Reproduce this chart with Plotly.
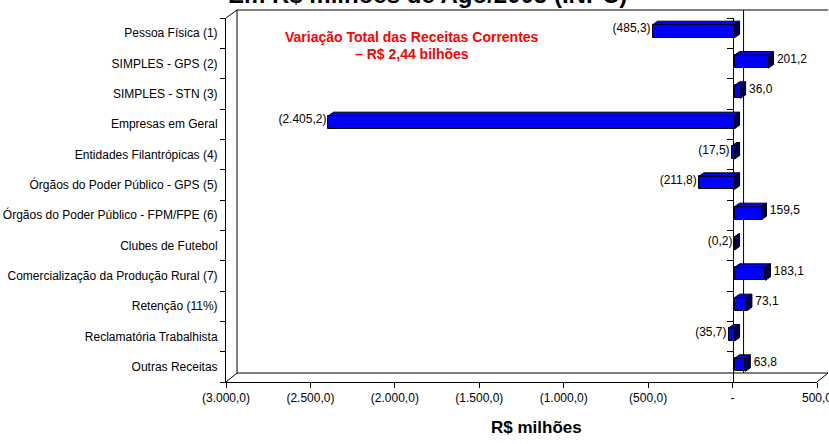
import plotly.graph_objects as go

# ---------------- data ----------------
categories = [
    "Pessoa Física (1)",
    "SIMPLES - GPS (2)",
    "SIMPLES - STN (3)",
    "Empresas em Geral",
    "Entidades Filantrópicas (4)",
    "Órgãos do Poder Público - GPS (5)",
    "Órgãos do Poder Público - FPM/FPE (6)",
    "Clubes de Futebol",
    "Comercialização da Produção Rural (7)",
    "Retenção (11%)",
    "Reclamatória Trabalhista",
    "Outras Receitas",
]
values = [-485.3, 201.2, 36.0, -2405.2, -17.5, -211.8, 159.5, -0.2, 183.1, 73.1, -35.7, 63.8]
x_tickvals = [-3000, -2500, -2000, -1500, -1000, -500, 0, 500]
x_ticktext = ["(3.000,0)", "(2.500,0)", "(2.000,0)", "(1.500,0)", "(1.000,0)", "(500,0)", "-", "500,0"]
title_text = "Em R$ milhões de Ago/2005 (INPC)"
note_line1 = "Variação Total das Receitas Correntes"
note_line2 = "– R$ 2,44 bilhões"
x_title = "R$ milhões"

# ---------------- layout helpers ----------------
W, H = 829, 444
L, R, T, B = 226, 0, 10, 62
PW, PH = W - L - R, H - T - B
FONT = "Liberation Sans, Arial, sans-serif"
XR = [-3000, 500]
YR = [len(categories) - 0.5, -0.5]


def pxx(x):
    return (x - L) / PW


def pyy(y):
    return (H - B - y) / PH


main_xd = [pxx(226), pxx(817)]
main_yd = [pyy(382), pyy(18)]
back_xd = [pxx(237), pxx(828)]
back_yd = [pyy(373), pyy(10)]
bar_xd = [pxx(228), pxx(819)]
bar_yd = [pyy(380), pyy(16)]

px_per_unit = (817 - 226) / (XR[1] - XR[0])
px_per_cat = (382 - 18) / len(categories)
DX = 5 / px_per_unit       # bar depth (x, data units)
DY = 3.5 / px_per_cat      # bar depth (y, category units)
BW = 13 / px_per_cat       # bar thickness
LBL_DY = 2 / px_per_cat
LBL_GAP = 2 / px_per_unit


def br(v):
    s = f"{abs(v):,.1f}".replace(",", "X").replace(".", ",").replace("X", ".")
    return f"({s})" if v < 0 else s


idx = list(range(len(categories)))
bounds = [i - 0.5 for i in range(len(categories) + 1)]

# polygons for 3D faces
top_x, top_y, side_x, side_y = [], [], [], []
for i, v in zip(idx, values):
    x0, x1 = min(v, 0), max(v, 0)
    yt = i - BW / 2
    top_x += [x0, x1, x1 + DX, x0 + DX, x0, None]
    top_y += [yt, yt, yt - DY, yt - DY, yt, None]
    side_x += [x1, x1 + DX, x1 + DX, x1, x1, None]
    side_y += [yt, yt - DY, yt + BW - DY, yt + BW, yt, None]

fig = go.Figure()
# empty traces so that the axis subplots are drawn
fig.add_trace(go.Scatter(x=[], y=[], xaxis="x", yaxis="y", hoverinfo="skip"))
fig.add_trace(go.Scatter(x=[], y=[], xaxis="x", yaxis="y4", hoverinfo="skip"))
fig.add_trace(go.Scatter(x=[], y=[], xaxis="x", yaxis="y5", hoverinfo="skip"))

fig.add_trace(go.Scatter(x=top_x, y=top_y, mode="lines", fill="toself",
                         fillcolor="#0000FF", line=dict(color="black", width=1),
                         xaxis="x3", yaxis="y3", hoverinfo="skip"))
fig.add_trace(go.Scatter(x=side_x, y=side_y, mode="lines", fill="toself",
                         fillcolor="#00005A", line=dict(color="black", width=1),
                         xaxis="x3", yaxis="y3", hoverinfo="skip"))
fig.add_trace(go.Bar(x=values, y=idx, orientation="h", width=BW,
                     marker=dict(color="#0000FF", line=dict(color="black", width=1)),
                     xaxis="x3", yaxis="y3", hoverinfo="skip"))

neg = [(i, v) for i, v in zip(idx, values) if v < 0]
pos = [(i, v) for i, v in zip(idx, values) if v >= 0]
fig.add_trace(go.Scatter(x=[v - LBL_GAP for i, v in neg], y=[i - LBL_DY for i, v in neg],
                         text=[br(v) for i, v in neg], mode="text",
                         textposition="middle left",
                         textfont=dict(family=FONT, size=12, color="black"),
                         xaxis="x3", yaxis="y3", hoverinfo="skip"))
fig.add_trace(go.Scatter(x=[v + DX for i, v in pos], y=[i - LBL_DY for i, v in pos],
                         text=[" " + br(v) for i, v in pos], mode="text",
                         textposition="middle right",
                         textfont=dict(family=FONT, size=12, color="black"),
                         xaxis="x3", yaxis="y3", hoverinfo="skip"))

shapes = [
    # back wall
    dict(type="line", xref="x2 domain", yref="y2 domain", x0=0, x1=0, y0=0, y1=1),
    dict(type="line", xref="x2 domain", yref="y2 domain", x0=0, x1=1, y0=1, y1=1),
    dict(type="line", xref="x2 domain", yref="y2 domain", x0=0, x1=1, y0=0, y1=0),
    dict(type="line", xref="x2", yref="y2 domain", x0=0, x1=0, y0=0, y1=1),
    # depth connectors
    dict(type="line", xref="paper", yref="paper", x0=pxx(226), y0=pyy(18), x1=pxx(237), y1=pyy(10)),
    dict(type="line", xref="paper", yref="paper", x0=pxx(226), y0=pyy(382), x1=pxx(237), y1=pyy(373)),
    dict(type="line", xref="paper", yref="paper", x0=pxx(817), y0=pyy(382), x1=pxx(828), y1=pyy(373)),
]
for s in shapes:
    s["line"] = dict(color="black", width=1)
    s["layer"] = "below"

zero_pos = main_xd[0] + (0 - XR[0]) / (XR[1] - XR[0]) * (main_xd[1] - main_xd[0])

fig.update_layout(
    width=W, height=H,
    margin=dict(l=L, r=R, t=T, b=B, pad=0, autoexpand=False),
    paper_bgcolor="white", plot_bgcolor="rgba(0,0,0,0)",
    showlegend=False, hovermode=False,
    font=dict(family=FONT, size=12, color="black"),
    bargap=0,
    xaxis=dict(domain=main_xd, range=XR, anchor="y", tickmode="array",
               tickvals=x_tickvals, ticktext=x_ticktext, ticks="outside", ticklen=5,
               tickcolor="black", showline=True, linecolor="black", linewidth=1,
               showgrid=False, zeroline=False, tickfont=dict(size=12),
               ticklabeloverflow="allow", automargin=False),
    yaxis=dict(domain=main_yd, range=YR, anchor="x", tickmode="array",
               tickvals=idx, ticktext=categories, ticks="outside", ticklen=5,
               tickcolor="rgba(0,0,0,0)", showline=True, linecolor="black",
               showgrid=False, zeroline=False, tickfont=dict(size=12), automargin=False),
    yaxis5=dict(overlaying="y", anchor="x", side="left", range=YR, tickmode="array",
                tickvals=bounds, ticks="outside", ticklen=5, tickcolor="black",
                showticklabels=False, showline=False, showgrid=False, zeroline=False,
                automargin=False),
    yaxis4=dict(overlaying="y", anchor="free", position=zero_pos, side="left", range=YR,
                tickmode="array", tickvals=bounds, ticks="outside", ticklen=6,
                tickcolor="black", showticklabels=False, showline=True, linecolor="black",
                showgrid=False, zeroline=False, automargin=False),
    xaxis2=dict(domain=back_xd, range=XR, anchor="y2", visible=False, automargin=False),
    yaxis2=dict(domain=back_yd, range=[0, 1], anchor="x2", visible=False, automargin=False),
    xaxis3=dict(domain=bar_xd, range=XR, anchor="y3", visible=False, automargin=False),
    yaxis3=dict(domain=bar_yd, range=YR, anchor="x3", visible=False, automargin=False),
    shapes=shapes,
    annotations=[
        dict(text=f"<b>{title_text}</b>", xref="paper", yref="paper",
             x=pxx(427), y=pyy(-6), xanchor="center", yanchor="middle",
             showarrow=False, font=dict(family=FONT, size=24, color="black")),
        dict(text=f"<b>{note_line1}</b>", xref="paper", yref="paper",
             x=pxx(411.5), y=pyy(36.7), xanchor="center", yanchor="middle",
             showarrow=False, font=dict(family=FONT, size=14, color="#FF0000")),
        dict(text=f"<b>{note_line2}</b>", xref="paper", yref="paper",
             x=pxx(411.5), y=pyy(54.3), xanchor="center", yanchor="middle",
             showarrow=False, font=dict(family=FONT, size=14, color="#FF0000")),
        dict(text=f"<b>{x_title}</b>", xref="paper", yref="paper",
             x=pxx(536), y=pyy(428), xanchor="center", yanchor="middle",
             showarrow=False, font=dict(family=FONT, size=17, color="black")),
    ],
)

fig.write_html("out.html", config={"displayModeBar": False},
               post_script="document.body.style.margin='0px';")
